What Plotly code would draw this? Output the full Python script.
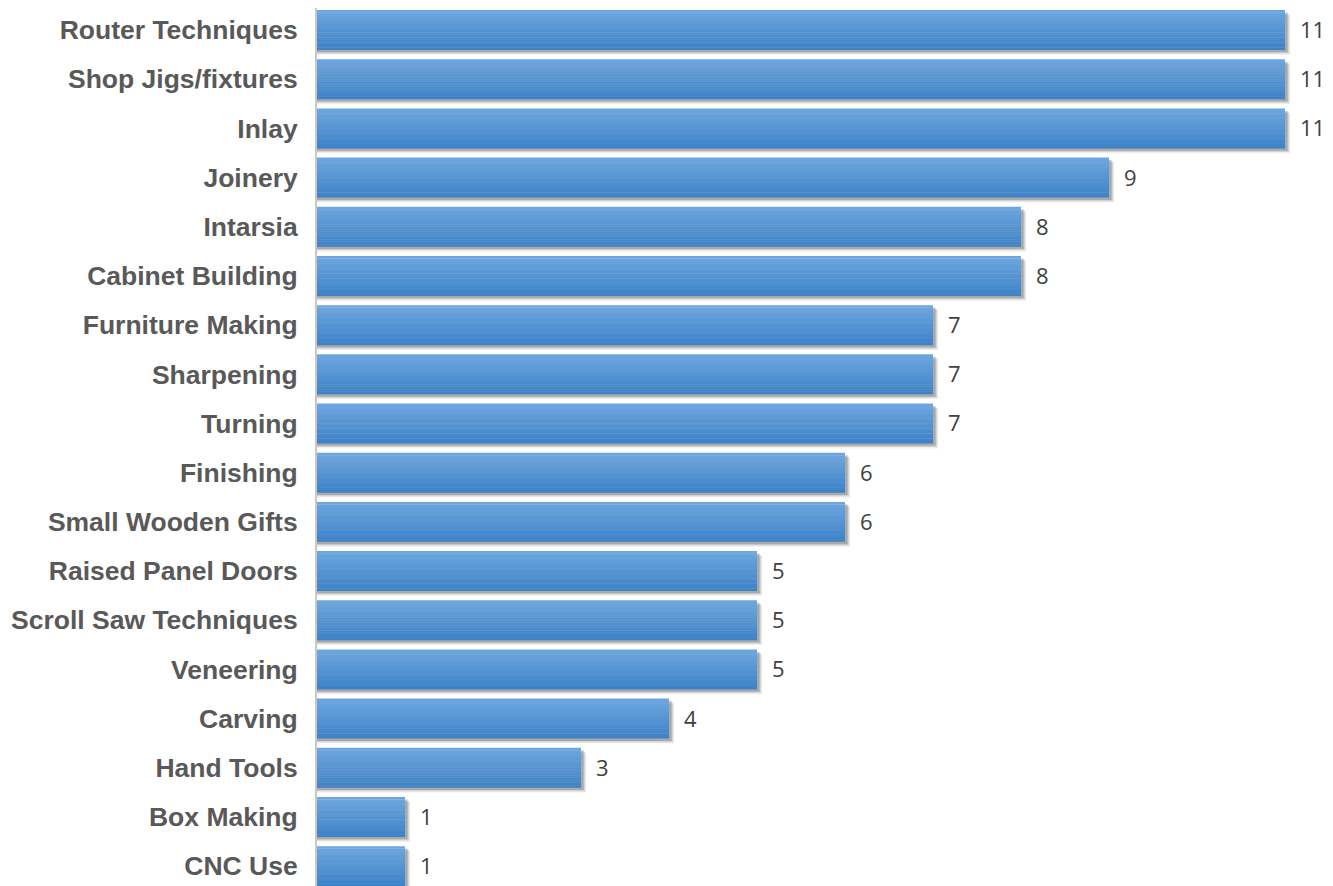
import plotly.graph_objects as go

categories = ["Router Techniques", "Shop Jigs/fixtures", "Inlay", "Joinery", "Intarsia",
              "Cabinet Building", "Furniture Making", "Sharpening", "Turning", "Finishing",
              "Small Wooden Gifts", "Raised Panel Doors", "Scroll Saw Techniques", "Veneering",
              "Carving", "Hand Tools", "Box Making", "CNC Use"]
values = [11, 11, 11, 9, 8, 8, 7, 7, 7, 6, 6, 5, 5, 5, 4, 3, 1, 1]

W = 0.81
fig = go.Figure()

# soft shadow layers
for dx, dy, alpha in [(0.06, 0.10, 0.08), (0.045, 0.075, 0.14), (0.03, 0.05, 0.24)]:
    fig.add_trace(go.Bar(
        y=categories, x=[v + dx for v in values], orientation="h",
        width=W, offset=-W / 2 + dy,
        marker=dict(color=f"rgba(40,40,40,{alpha})", line=dict(width=0)),
        hoverinfo="skip", showlegend=False))

# gradient strips
top = (0x6c, 0xa6, 0xe0)
bot = (0x3d, 0x83, 0xc9)
n = 16
for i in range(n):
    t = i / (n - 1)
    c = tuple(int(round(top[k] + (bot[k] - top[k]) * t)) for k in range(3))
    fig.add_trace(go.Bar(
        y=categories, x=values, orientation="h",
        width=W / n + 0.003, offset=-W / 2 + i * W / n,
        marker=dict(color=f"rgb{c}", line=dict(width=0)),
        hoverinfo="skip", showlegend=False))

# value labels
for cat, v in zip(categories, values):
    fig.add_annotation(x=v, y=cat, text=str(v), showarrow=False, xanchor="left",
                       xshift=13, yshift=1,
                       font=dict(family="Open Sans", size=22, color="#404040"))

fig.update_layout(
    width=1325, height=878,
    margin=dict(l=309, r=4, t=0, b=0),
    barmode="overlay",
    plot_bgcolor="white", paper_bgcolor="white",
)
fig.update_xaxes(range=[0, 11.5], showgrid=False, zeroline=False, showticklabels=False, showline=False)
fig.update_yaxes(type="category", categoryorder="array", categoryarray=categories,
                 range=[17.405, -0.447], showgrid=False, showline=True, linecolor="#c8c8c8",
                 linewidth=2, ticks="", ticklabelstandoff=12,
                 tickfont=dict(family="Liberation Sans", size=26.5, color="#595959", weight="bold"))

fig.write_html("out.html")
